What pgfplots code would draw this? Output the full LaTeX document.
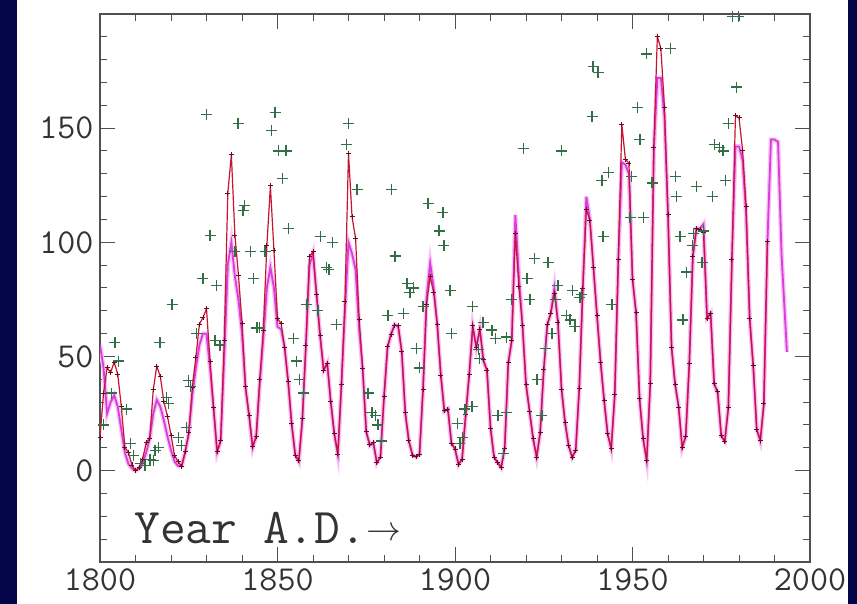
\documentclass[border=0pt]{standalone}
\usepackage{pgfplots}
\pgfplotsset{compat=1.18}
\definecolor{bgblue}{RGB}{4,4,72}
\definecolor{spotred}{RGB}{200,20,50}
\definecolor{spotdark}{RGB}{110,10,30}
\definecolor{grpmag}{RGB}{220,60,220}
\definecolor{pgreen}{RGB}{50,110,70}
\definecolor{axgray}{RGB}{80,80,80}

\begin{document}
\begin{tikzpicture}[x=1pt,y=1pt]
\fill[bgblue] (0,0) rectangle (857,604);
\fill[white] (17,0) rectangle (848,604);
\begin{axis}[
    at={(100pt,42pt)}, anchor=south west,
    scale only axis, width=710pt, height=548pt,
    xmin=1800, xmax=2000, ymin=-40, ymax=200,
    xtick={1800,1850,...,2000}, minor xtick={1810,1820,...,1990},
    ytick={0,50,100,150}, minor ytick={-30,-20,...,190},
    tick align=inside,
    major tick length=15pt, minor tick length=7pt,
    tick style={axgray, line width=1pt},
    axis line style={axgray, line width=1.5pt},
    ticklabel style={font=\fontsize{35}{35}\ttfamily, text=black!80},
    /pgf/number format/assume math mode=true,
    /pgf/number format/1000 sep={},
    xticklabel style={yshift=-3pt},
    yticklabel style={xshift=-3pt},
]
% group-type series (magenta)
\addplot[grpmag!30, line width=4.5pt, forget plot] coordinates {
(1800,55)(1801,45)(1802,25)(1803,30)(1804,33)(1805,28)(1806,18)(1807,8)(1808,3)(1809,1)(1810,0)(1811,1)(1812,3)(1813,8)(1814,14)(1815,25)(1816,31)(1817,28)(1818,22)(1819,15)(1820,9)(1821,4)(1822,2)(1823,2)(1824,8)(1825,16)(1826,33)(1827,45)(1828,55)(1829,60)(1830,60)(1831,45)(1832,27)(1833,8)(1834,13)(1835,50)(1836,90)(1837,100)(1838,85)(1839,75)(1840,60)(1841,36)(1842,24)(1843,10)(1844,15)(1845,38)(1846,58)(1847,80)(1848,89)(1849,80)(1850,63)(1851,62)(1852,54)(1853,39)(1854,20)(1855,7)(1856,4)(1857,22)(1858,55)(1859,90)(1860,95)(1861,77)(1862,59)(1863,44)(1864,47)(1865,30)(1866,16)(1867,7)(1868,37)(1869,70)(1870,100)(1871,95)(1872,88)(1873,62)(1874,44)(1875,17)(1876,11)(1877,12)(1878,3.4)(1879,6)(1880,32)(1881,54)(1882,60)(1883,64)(1884,63)(1885,52)(1886,25)(1887,13)(1888,7)(1889,6)(1890,7)(1891,36)(1892,76)(1893,91)(1894,80)(1895,64)(1896,42)(1897,26)(1898,27)(1899,12)(1900,9.5)(1901,2.7)(1902,5)(1903,24)(1904,42)(1905,63)(1906,54)(1907,62)(1908,48)(1909,44)(1910,19)(1911,6)(1912,3.6)(1913,1.4)(1914,10)(1915,47)(1916,57)(1917,112)(1918,85)(1919,64)(1920,38)(1921,26)(1922,14)(1923,6)(1924,17)(1925,44)(1926,64)(1927,69)(1928,80)(1929,65)(1930,36)(1931,21)(1932,11)(1933,6)(1934,9)(1935,36)(1936,80)(1937,120)(1938,110)(1939,89)(1940,68)(1941,48)(1942,31)(1943,16)(1944,9.6)(1945,33)(1946,92)(1947,135)(1948,134)(1949,130)(1950,84)(1951,69)(1952,31)(1953,14)(1954,4.4)(1955,38)(1956,140)(1957,172)(1958,172)(1959,155)(1960,112)(1961,54)(1962,38)(1963,28)(1964,10)(1965,15)(1966,47)(1967,94)(1968,106)(1969,106)(1970,108)(1971,67)(1972,69)(1973,38)(1974,34)(1975,15)(1976,13)(1977,28)(1978,92)(1979,142)(1980,142)(1981,136)(1982,112)(1983,67)(1984,46)(1985,18)(1986,13)(1987,29)(1988,100)(1989,145)(1990,145)(1991,144)(1992,94)(1993.5,52)
};
\addplot[grpmag, line width=1.8pt] coordinates {
(1800,55)(1801,45)(1802,25)(1803,30)(1804,33)(1805,28)(1806,18)(1807,8)(1808,3)(1809,1)(1810,0)(1811,1)(1812,3)(1813,8)(1814,14)(1815,25)(1816,31)(1817,28)(1818,22)(1819,15)(1820,9)(1821,4)(1822,2)(1823,2)(1824,8)(1825,16)(1826,33)(1827,45)(1828,55)(1829,60)(1830,60)(1831,45)(1832,27)(1833,8)(1834,13)(1835,50)(1836,90)(1837,100)(1838,85)(1839,75)(1840,60)(1841,36)(1842,24)(1843,10)(1844,15)(1845,38)(1846,58)(1847,80)(1848,89)(1849,80)(1850,63)(1851,62)(1852,54)(1853,39)(1854,20)(1855,7)(1856,4)(1857,22)(1858,55)(1859,90)(1860,95)(1861,77)(1862,59)(1863,44)(1864,47)(1865,30)(1866,16)(1867,7)(1868,37)(1869,70)(1870,100)(1871,95)(1872,88)(1873,62)(1874,44)(1875,17)(1876,11)(1877,12)(1878,3.4)(1879,6)(1880,32)(1881,54)(1882,60)(1883,64)(1884,63)(1885,52)(1886,25)(1887,13)(1888,7)(1889,6)(1890,7)(1891,36)(1892,76)(1893,91)(1894,80)(1895,64)(1896,42)(1897,26)(1898,27)(1899,12)(1900,9.5)(1901,2.7)(1902,5)(1903,24)(1904,42)(1905,63)(1906,54)(1907,62)(1908,48)(1909,44)(1910,19)(1911,6)(1912,3.6)(1913,1.4)(1914,10)(1915,47)(1916,57)(1917,112)(1918,85)(1919,64)(1920,38)(1921,26)(1922,14)(1923,6)(1924,17)(1925,44)(1926,64)(1927,69)(1928,80)(1929,65)(1930,36)(1931,21)(1932,11)(1933,6)(1934,9)(1935,36)(1936,80)(1937,120)(1938,110)(1939,89)(1940,68)(1941,48)(1942,31)(1943,16)(1944,9.6)(1945,33)(1946,92)(1947,135)(1948,134)(1949,130)(1950,84)(1951,69)(1952,31)(1953,14)(1954,4.4)(1955,38)(1956,140)(1957,172)(1958,172)(1959,155)(1960,112)(1961,54)(1962,38)(1963,28)(1964,10)(1965,15)(1966,47)(1967,94)(1968,106)(1969,106)(1970,108)(1971,67)(1972,69)(1973,38)(1974,34)(1975,15)(1976,13)(1977,28)(1978,92)(1979,142)(1980,142)(1981,136)(1982,112)(1983,67)(1984,46)(1985,18)(1986,13)(1987,29)(1988,100)(1989,145)(1990,145)(1991,144)(1992,94)(1993.5,52)
};
% annual sunspot numbers (red, dark marks)
\addplot[spotred, line width=1.2pt, mark=+, mark size=2.5pt,
    mark options={spotdark, line width=0.9pt}] coordinates {
(1800,14.5)(1801,34.0)(1802,45.0)(1803,43.1)(1804,47.5)(1805,42.2)(1806,28.1)(1807,10.1)(1808,8.1)(1809,2.5)(1810,0.0)(1811,1.4)(1812,5.0)(1813,12.2)(1814,13.9)(1815,35.4)(1816,45.8)(1817,41.1)(1818,30.1)(1819,23.9)(1820,15.6)(1821,6.6)(1822,4.0)(1823,1.8)(1824,8.5)(1825,16.6)(1826,36.3)(1827,49.6)(1828,64.2)(1829,67.0)(1830,70.9)(1831,47.8)(1832,27.5)(1833,8.5)(1834,13.2)(1835,56.9)(1836,121.5)(1837,138.3)(1838,103.2)(1839,85.7)(1840,64.6)(1841,36.7)(1842,24.2)(1843,10.7)(1844,15.0)(1845,40.1)(1846,61.5)(1847,98.5)(1848,124.7)(1849,96.3)(1850,66.6)(1851,64.5)(1852,54.1)(1853,39.0)(1854,20.6)(1855,6.7)(1856,4.3)(1857,22.7)(1858,54.8)(1859,93.8)(1860,95.8)(1861,77.2)(1862,59.1)(1863,44.0)(1864,47.0)(1865,30.5)(1866,16.3)(1867,7.3)(1868,37.6)(1869,74.0)(1870,139.0)(1871,111.2)(1872,101.6)(1873,66.2)(1874,44.7)(1875,17.0)(1876,11.3)(1877,12.4)(1878,3.4)(1879,6.0)(1880,32.3)(1881,54.3)(1882,59.7)(1883,63.7)(1884,63.5)(1885,52.2)(1886,25.4)(1887,13.1)(1888,6.8)(1889,6.3)(1890,7.1)(1891,35.6)(1892,73.0)(1893,85.1)(1894,78.0)(1895,64.0)(1896,41.8)(1897,26.2)(1898,26.7)(1899,12.1)(1900,9.5)(1901,2.7)(1902,5.0)(1903,24.4)(1904,42.0)(1905,63.5)(1906,53.8)(1907,62.0)(1908,48.5)(1909,43.9)(1910,18.6)(1911,5.7)(1912,3.6)(1913,1.4)(1914,9.6)(1915,47.4)(1916,57.1)(1917,103.9)(1918,80.6)(1919,63.6)(1920,37.6)(1921,26.1)(1922,14.2)(1923,5.8)(1924,16.7)(1925,44.3)(1926,63.9)(1927,69.0)(1928,77.8)(1929,64.9)(1930,35.7)(1931,21.2)(1932,11.1)(1933,5.7)(1934,8.7)(1935,36.1)(1936,79.7)(1937,114.4)(1938,109.6)(1939,88.8)(1940,67.8)(1941,47.5)(1942,30.6)(1943,16.3)(1944,9.6)(1945,33.2)(1946,92.6)(1947,151.6)(1948,136.3)(1949,134.7)(1950,83.9)(1951,69.4)(1952,31.5)(1953,13.9)(1954,4.4)(1955,38.0)(1956,141.7)(1957,190.2)(1958,184.8)(1959,159.0)(1960,112.3)(1961,53.9)(1962,37.6)(1963,27.9)(1964,10.2)(1965,15.1)(1966,47.0)(1967,93.8)(1968,105.9)(1969,105.5)(1970,104.5)(1971,66.6)(1972,68.9)(1973,38.0)(1974,34.5)(1975,15.5)(1976,12.6)(1977,27.5)(1978,92.5)(1979,155.4)(1980,154.6)(1981,140.4)(1982,115.9)(1983,66.6)(1984,45.9)(1985,17.9)(1986,13.4)(1987,29.4)(1988,100.2)
};
% scattered green values
\addplot[only marks, mark=+, mark size=5.5pt, mark options={pgreen, line width=1.2pt}] coordinates {
(1801,20)(1803.3,34)(1804.2,56)(1805.2,48)(1807.5,27)(1808.5,12)(1809.4,6.6)(1811.3,3)(1812.7,2.2)(1814.1,5)(1815,4.4)(1815.5,9)(1816.4,10)(1816.9,56)(1818.8,32)(1819.2,29.5)(1820.3,72.6)(1822,14.5)(1823,11)(1824.4,19)(1824.9,39.5)(1825.4,37)(1827.2,60)(1829,84)(1830.1,156)(1831,103)(1832.4,57)(1832.9,81)(1833.8,55)(1838,96)(1838.9,152)(1840.3,114)(1840.8,116)(1842.3,96)(1843.2,84)(1844.2,62.5)(1845,62.5)(1846.5,96)(1848.4,149)(1849.3,157)(1850.2,140)(1851.5,128)(1852.4,140)(1853,106)(1854.4,58)(1855.4,48)(1856.3,40)(1857.3,34)(1858.3,72.6)(1861.4,70)(1862,102.5)(1863.9,89)(1864.5,88)(1865.6,100)(1866.7,64)(1869.5,143)(1869.9,152)(1872.4,123)(1875.5,34)(1876.6,25.5)(1877.5,24)(1878.3,20)(1879.4,13)(1881.1,68)(1882.2,123)(1883.1,94)(1885.4,69)(1886.5,82)(1887.3,78)(1888.2,80)(1889.2,53.6)(1890.1,45)(1891,72)(1892.4,117)(1895.5,105)(1896.6,113)(1896.9,98.5)(1898.6,79)(1899.1,60)(1900.6,20.6)(1901.4,12)(1902,14.5)(1902.8,27)(1904.8,28)(1905,72)(1906.6,53)(1907,49)(1907.9,65)(1910.4,61.6)(1911.4,58)(1912.1,24)(1913.6,7.5)(1914.6,25.5)(1914.6,58.5)(1916,75)(1919.2,141)(1920.3,84)(1921.1,75)(1922.5,93)(1923.1,40)(1924.5,24)(1925.4,53.6)(1926.2,91)(1927.3,60)(1928.2,75)(1929,81)(1930.1,140)(1931.5,68)(1932.4,66)(1933.2,79)(1933.8,63)(1935.2,76)(1935.7,77)(1938.6,155)(1938.9,177)(1940.3,174.5)(1941.4,127)(1941.7,102.5)(1943.2,130.5)(1944.2,72.6)(1949.3,111)(1949.8,129)(1951.3,159)(1952.1,145)(1953,111)(1954,182.5)(1955.5,126)(1960.6,185)(1962,129)(1962.4,120)(1963.4,102.5)(1964.2,66)(1965.3,87)(1966.8,98.5)(1967.1,104)(1968.1,124.5)(1969.6,91)(1969.9,105)(1972.6,120)(1973.2,143)(1974.6,141.5)(1975.5,140)(1976.3,127)(1977,152)(1978.1,199)(1979.4,168)(1979.8,199)
};
\node[anchor=base west, font=\fontsize{50}{50}\ttfamily, text=black!80, inner sep=0pt] at (axis cs:1809.6,-31.7) {Year A.D.\raisebox{3pt}{\scalebox{1.4}{$\rightarrow$}}};
\end{axis}
\pgfresetboundingbox
\useasboundingbox (0,0) rectangle (857,604);
\end{tikzpicture}
\end{document}
